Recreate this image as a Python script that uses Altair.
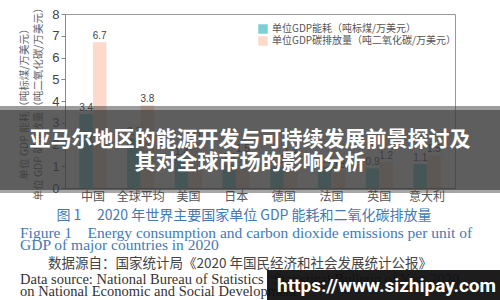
import altair as alt
import pandas as pd

countries = ["中国", "全球平均", "美国", "日本", "德国", "法国", "英国", "意大利"]
energy = [3.4, 2.3, 1.4, 1.1, 1.0, 1.0, 0.9, 1.1]
carbon = [6.7, 3.8, 2.1, 1.5, 1.4, 0.8, 1.2, 1.5]
series_names = ["单位GDP能耗（吨标煤/万美元）", "单位GDP碳排放量（吨二氧化碳/万美元）"]
colors = ["#7ccfd7", "#fcdacb"]
y_ticks = [0, 1, 2, 3, 4, 5, 6, 7, 8]

rows = []
for c, e, k in zip(countries, energy, carbon):
    rows.append({"country": c, "series": series_names[0], "value": e})
    rows.append({"country": c, "series": series_names[1], "value": k})
df = pd.DataFrame(rows)

CJK = "Noto Sans CJK SC"
W, H = 390, 174
OX, OY = 65, 14  # plot origin in page pixels
NB = "\u00a0"

def px(x):
    return x - OX

def py(y):
    return y - OY

base = alt.Chart(df).encode(
    x=alt.X(
        "country:N", sort=countries, title=None,
        scale=alt.Scale(paddingInner=0.43, paddingOuter=0.3),
        axis=alt.Axis(labelAngle=0, labelFont=CJK, labelFontSize=12, labelColor="#555",
                      ticks=False, domainColor="#888", labelPadding=3),
    ),
    xOffset=alt.XOffset("series:N", sort=series_names),
    y=alt.Y(
        "value:Q", scale=alt.Scale(domain=[0, 8], nice=False),
        title=["单位 GDP 能耗（吨标煤/万美元）", "单位 GDP 碳排放量（吨二氧化碳/万美元）"],
        axis=alt.Axis(values=y_ticks, grid=False, labelFont="Liberation Sans", labelFontSize=13,
                      labelColor="#444", tickSize=4, tickColor="#888", domainColor="#888",
                      titleFont=CJK, titleFontSize=10.5, titleFontWeight="normal",
                      titleColor="#666", titlePadding=8, titleLineHeight=14),
    ),
)

bars = base.mark_bar().encode(
    color=alt.Color(
        "series:N", sort=series_names,
        scale=alt.Scale(domain=series_names, range=colors),
        legend=alt.Legend(orient="none", legendX=193, legendY=10, title=None,
                          symbolType="square", symbolSize=90, symbolStrokeWidth=0,
                          labelFont=CJK, labelFontSize=10, labelColor="#555",
                          labelLimit=400, rowPadding=2, padding=0),
    )
)
labels = base.mark_text(dy=-6, fontSize=10, color="#444", font="Liberation Sans").encode(
    text=alt.Text("value:Q", format=".1f")
)

one = pd.DataFrame({"a": [0]})

def rect(x1, y1, x2, y2, color, opacity=1.0):
    return alt.Chart(one).mark_rect(color=color, opacity=opacity).encode(
        x=alt.value(px(x1)), x2=alt.value(px(x2)), y=alt.value(py(y1)), y2=alt.value(py(y2))
    )

def text(s, x, y, size, color, font, align="left", weight="normal"):
    return alt.Chart(one).mark_text(
        align=align, baseline="middle", fontSize=size, color=color, font=font, fontWeight=weight
    ).encode(x=alt.value(px(x)), y=alt.value(py(y)), text=alt.value(s))

banner = alt.layer(
    rect(0, 106, 500, 110, "#3a3a3a", 0.5),
    rect(0, 110, 500, 190, "#3a3a3a", 0.82),
    rect(0, 190, 500, 193, "#3a3a3a", 0.45),
)
title1 = text("亚马尔地区的能源开发与可持续发展前景探讨及", 250, 140, 21, "white", CJK, "center", "bold")
title2 = text("其对全球市场的影响分析", 250, 163, 21, "white", CJK, "center", "bold")

blue = "#4479b4"
cap1 = text("图 1" + NB * 5 + "2020 年世界主要国家单位 GDP 能耗和二氧化碳排放量", 244, 216, 14, blue, CJK, "center")
cap2 = text("Figure 1" + NB * 4 + "Energy consumption and carbon dioxide emissions per unit of", 20, 233, 15.5, blue, "Liberation Serif")
cap3 = text("GDP of major countries in 2020", 20, 245, 15.5, blue, "Liberation Serif")
cap4 = text("数据源自：国家统计局《2020 年国民经济和社会发展统计公报》", 240, 264, 13.5, "#444", CJK, "center")
cap5 = text("Data source: National Bureau of Statistics \u201cStatistical Bulletin of Year 2020", 20, 280, 14.5, "#333", "Liberation Serif")
cap6 = text("on National Economic and Social Development\u201d", 20, 292, 14.5, "#333", "Liberation Serif")

wm_box = rect(267, 270, 500, 300, "#111111", 0.95)
wm_text = text("https://www.sizhipay.com", 277, 286, 19, "white", "Roboto", "left", "bold")

chart = alt.layer(
    bars, labels, banner, title1, title2, cap1, cap2, cap3, cap4, cap5, cap6, wm_box, wm_text
).properties(
    width=W, height=H,
    autosize=alt.AutoSizeParams(type="none"),
    padding={"left": OX, "top": OY, "right": 500 - OX - W, "bottom": 300 - OY - H},
    background="white",
).configure_view(stroke="#999", strokeWidth=1)

chart.save("out.html", embed_options={"renderer": "svg", "actions": False})
